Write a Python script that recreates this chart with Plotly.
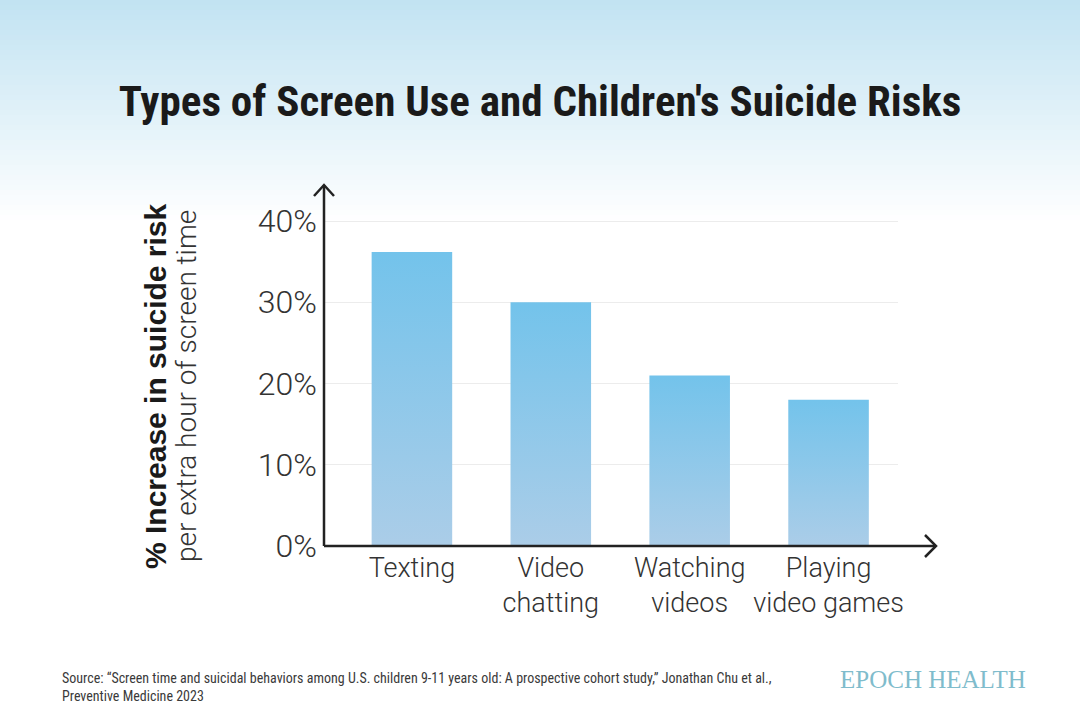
import plotly.graph_objects as go

# data
categories = ["Texting", "Video<br>chatting", "Watching<br>videos", "Playing<br>video games"]
risk_increase = [36.2, 30.0, 21.0, 18.0]   # % increase in suicide risk per extra hour
y_ticks = [0, 10, 20, 30, 40]
y_tick_labels = ["0%", "10%", "20%", "30%", "40%"]

W, H = 1080, 720
# plot area in pixels
L, R, T, B = 324, 898, 186, 546


def px_x(p):
    return (p - L) / (R - L)


def px_y(p):
    return (B - p) / (B - T)


fig = go.Figure()

half = 0.29
for i, v in enumerate(risk_increase):
    fig.add_trace(go.Scatter(
        x=[i - half, i + half, i + half, i - half, i - half],
        y=[0, 0, v, v, 0],
        mode="lines",
        line=dict(width=0),
        fill="toself",
        fillgradient=dict(type="vertical",
                          colorscale=[[0, "#abcde8"], [1, "#73c3eb"]]),
        hoverinfo="skip",
        showlegend=False,
    ))

shapes = []
# soft blue wash at the top of the page
steps = 44
top_rgb = (194, 227, 242)
for k in range(steps):
    t = k / steps
    c = tuple(int(round(a + (255 - a) * t)) for a in top_rgb)
    shapes.append(dict(type="rect", xref="paper", yref="paper",
                       x0=px_x(0), x1=px_x(W), y0=px_y((k + 1) * 5), y1=px_y(k * 5),
                       fillcolor="rgb(%d,%d,%d)" % c, line=dict(width=0), layer="below"))

axis_col = "#222222"
# axes with open arrow heads
shapes.append(dict(type="line", xref="paper", yref="paper",
                   x0=0, x1=0, y0=0, y1=px_y(185), line=dict(color=axis_col, width=2.5)))
shapes.append(dict(type="line", xref="paper", yref="paper",
                   x0=0, x1=px_x(936), y0=0, y1=0, line=dict(color=axis_col, width=2.5)))
shapes.append(dict(type="path", xref="paper", yref="paper",
                   path="M %f %f L %f %f L %f %f" % (px_x(314), px_y(196), px_x(324), px_y(185),
                                                   px_x(334), px_y(196)),
                   line=dict(color=axis_col, width=2.5)))
shapes.append(dict(type="path", xref="paper", yref="paper",
                   path="M %f %f L %f %f L %f %f" % (px_x(925), px_y(535), px_x(936), px_y(546),
                                                   px_x(925), px_y(557)),
                   line=dict(color=axis_col, width=2.5)))

light = dict(family="Roboto, Liberation Sans, sans-serif", color="#333333", weight=300)
narrow = "Roboto Condensed, Liberation Sans Narrow, Roboto, sans-serif"

annotations = [
    dict(text="<b>% Increase in suicide risk</b>", textangle=-90,
         xref="paper", yref="paper", x=px_x(155), y=px_y(386),
         xanchor="center", yanchor="middle", showarrow=False,
         font=dict(family="Liberation Sans, Arial, sans-serif", size=30, color="#1a1a1a")),
    dict(text="per extra hour of screen time", textangle=-90,
         xref="paper", yref="paper", x=px_x(186), y=px_y(386),
         xanchor="center", yanchor="middle", showarrow=False,
         font=dict(light, size=28)),
    dict(text="Source: \u201cScreen time and suicidal behaviors among U.S. children 9-11 years old: "
              "A prospective cohort study,\u201d Jonathan Chu et al.,<br>Preventive Medicine 2023",
         xref="paper", yref="paper", x=px_x(60), y=px_y(668),
         xanchor="left", yanchor="top", align="left", showarrow=False,
         font=dict(family=narrow, size=14, color="#3a3a3a")),
    dict(text="EPOCH HEALTH",
         xref="paper", yref="paper", x=px_x(1028), y=px_y(679),
         xanchor="right", yanchor="middle", showarrow=False,
         font=dict(family="Liberation Serif, DejaVu Serif, serif", size=25, color="#7fbccc")),
]

fig.update_layout(
    width=W, height=H,
    margin=dict(l=L, r=W - R, t=T, b=H - B),
    paper_bgcolor="white",
    plot_bgcolor="rgba(0,0,0,0)",
    title=dict(text="Types of Screen Use and Children's Suicide Risks",
               xref="container", yref="container", x=0.5, y=1 - 101 / H,
               xanchor="center", yanchor="middle",
               font=dict(family=narrow, weight=700, size=43, color="#1a1a1a")),
    xaxis=dict(range=[-0.633, 3.5], tickvals=list(range(len(categories))), ticktext=categories,
               showgrid=False, zeroline=False, showline=False,
               ticks="", ticklabelstandoff=3,
               tickfont=dict(light, size=27), fixedrange=True),
    yaxis=dict(range=[0, 360 / 8.125], tickvals=y_ticks, ticktext=y_tick_labels,
               showgrid=True, gridcolor="#ececec", gridwidth=1,
               zeroline=False, showline=False,
               ticks="", ticklabelstandoff=6,
               tickfont=dict(light, size=32), fixedrange=True),
    shapes=shapes,
    annotations=annotations,
)

fig.write_html("out.html", config={"displayModeBar": False},
               post_script="document.body.style.margin='0';")
